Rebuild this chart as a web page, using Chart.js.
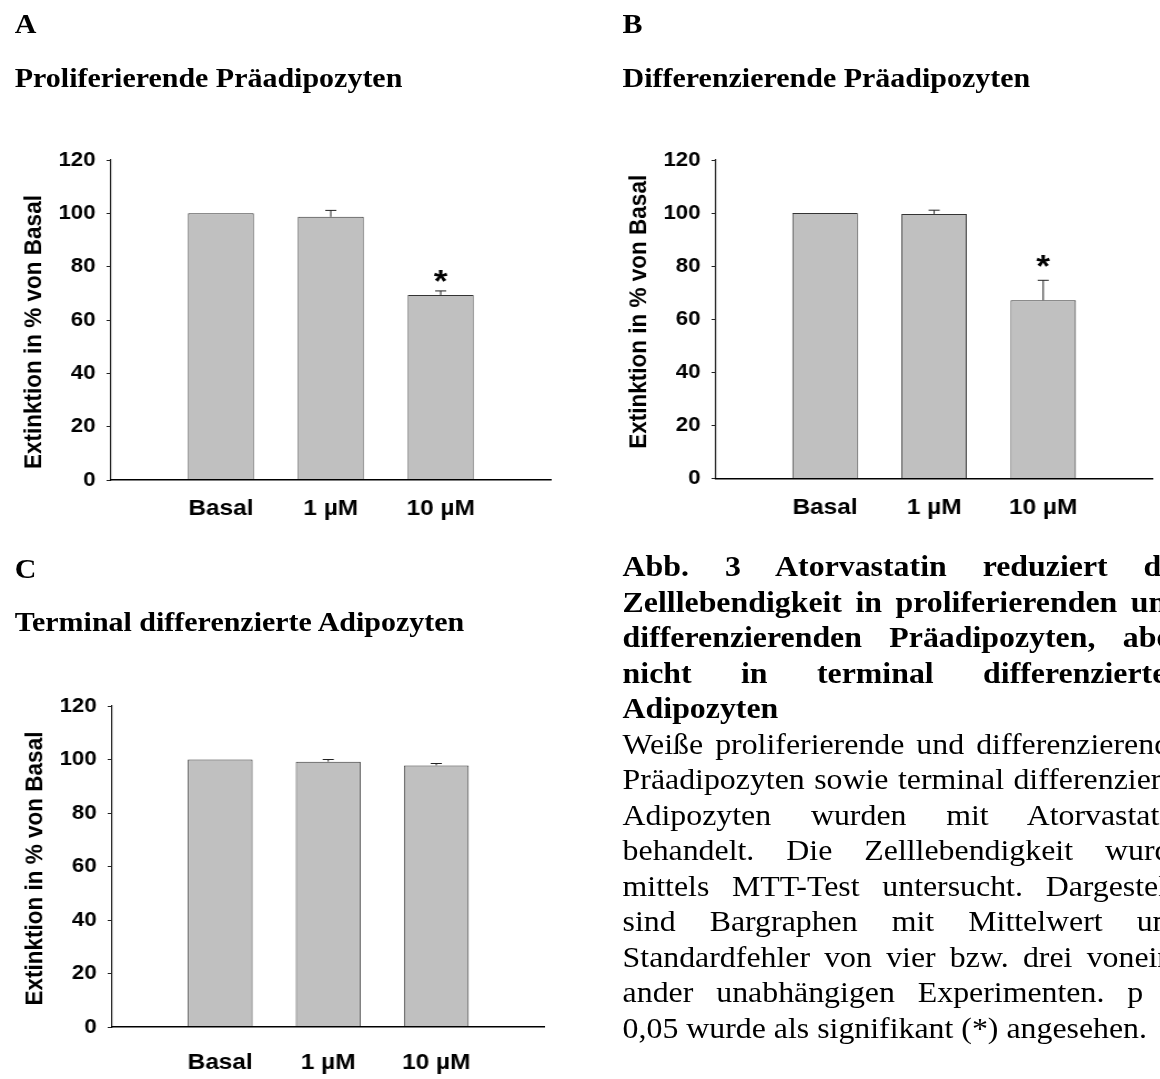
<!DOCTYPE html>
<html lang="de">
<head>
<meta charset="utf-8">
<title>Atorvastatin – Zelllebendigkeit</title>
<script src="https://cdn.jsdelivr.net/npm/chart.js@4.4.1/dist/chart.umd.min.js"></script>
<style>
  html, body { margin: 0; padding: 0; background: #fff; width: 1160px; height: 1079px; overflow: hidden; }
  /* the whole figure is laid out on a slightly narrower sheet and widened horizontally */
  #sheet { position: absolute; left: 0; top: 0; width: 1060px; height: 1079px;
           transform: scaleX(1.11); transform-origin: 0 0; }
  .serif { position: absolute; font-family: "Liberation Serif", "Times New Roman", serif;
           font-size: 27px; line-height: 27px; color: #000; white-space: nowrap; }
  .bold { font-weight: bold; }
  .panel { position: absolute; }
  #caption { position: absolute; left: 560.9px; top: 549.3px; width: 507px;
             font-family: "Liberation Serif", "Times New Roman", serif; font-size: 28.7px; color: #000; }
  #caption div { height: 35.5px; line-height: 35.5px; white-space: nowrap; }
</style>
</head>
<body>
<div id="sheet">
  <div class="serif bold" style="left:13.3px; top:10.7px;">A</div>
  <div class="serif bold" style="left:13.3px; top:64.7px;">Proliferierende Präadipozyten</div>
  <div class="serif bold" style="left:560.9px; top:10.7px;">B</div>
  <div class="serif bold" style="left:560.9px; top:64.7px;">Differenzierende Präadipozyten</div>
  <div class="serif bold" style="left:13.3px; top:555.7px;">C</div>
  <div class="serif bold" style="left:13.3px; top:609.1px;">Terminal differenzierte Adipozyten</div>

  <div class="panel" style="left:0px; top:130px; width:512px; height:400px;"><canvas id="chartA"></canvas></div>
  <div class="panel" style="left:545.3px; top:130px; width:509.1px; height:400px;"><canvas id="chartB"></canvas></div>
  <div class="panel" style="left:0.6px; top:675.7px; width:512.1px; height:401px;"><canvas id="chartC"></canvas></div>

  <div id="caption">
    <div class="bold j"><span>Abb. 3 Atorvastatin reduziert die</span></div>
    <div class="bold j"><span>Zelllebendigkeit in proliferierenden und</span></div>
    <div class="bold j"><span>differenzierenden Präadipozyten, aber</span></div>
    <div class="bold j"><span>nicht in terminal differenzierten</span></div>
    <div class="bold"><span>Adipozyten</span></div>
    <div class="j"><span>Weiße proliferierende und differenzierende</span></div>
    <div class="j"><span>Präadipozyten sowie terminal differenzierte</span></div>
    <div class="j"><span>Adipozyten wurden mit Atorvastatin</span></div>
    <div class="j"><span>behandelt. Die Zelllebendigkeit wurde</span></div>
    <div class="j"><span>mittels MTT-Test untersucht. Dargestellt</span></div>
    <div class="j"><span>sind Bargraphen mit Mittelwert und</span></div>
    <div class="j"><span>Standardfehler von vier bzw. drei vonein-</span></div>
    <div class="j"><span>ander unabhängigen Experimenten. p &lt;</span></div>
    <div><span>0,05 wurde als signifikant (*) angesehen.</span></div>
  </div>
</div>

<script>
// ---- data ----
const categories = ['Basal', '1 µM', '10 µM'];
const yTickValues = [0, 20, 40, 60, 80, 100, 120];
const axisTitle = 'Extinktion in % von Basal';

// A: proliferating preadipocytes
const proliferatingMean = [100, 98.7, 69.4];
const proliferatingSem  = [0, 2.4, 1.5];
const proliferatingSig  = [false, false, true];

// B: differentiating preadipocytes
const differentiatingMean = [100, 99.7, 67.2];
const differentiatingSem  = [0, 1.4, 7.5];
const differentiatingSig  = [false, false, true];

// C: terminally differentiated adipocytes
const matureMean = [100, 99.2, 97.8];
const matureSem  = [0, 0.8, 0.7];
const matureSig  = [false, false, false];

// ---- justified caption lines ----
const captionWidth = 506;
document.querySelectorAll('#caption div.j').forEach(line => {
  const span = line.querySelector('span');
  const gaps = (span.textContent.match(/ /g) || []).length;
  if (gaps > 0) {
    const extra = (captionWidth - span.offsetWidth) / gaps;
    span.style.wordSpacing = extra + 'px';
  }
});

// ---- chart drawing ----
const sansFamily = '"Liberation Sans", Arial, sans-serif';

// upper error bars and significance asterisks
const errorBarPlugin = {
  id: 'errorBars',
  afterDatasetsDraw(chart, args, opts) {
    const ctx = chart.ctx;
    const yScale = chart.scales.y;
    const ds = chart.data.datasets[0];
    const meta = chart.getDatasetMeta(0);
    ctx.save();
    ctx.strokeStyle = '#222';
    ctx.lineWidth = 1;
    meta.data.forEach((bar, i) => {
      const v = ds.data[i];
      if (v === null || v === undefined) return;
      const err = ds.errors[i] || 0;
      const yEnd = yScale.getPixelForValue(v + err);
      if (err > 0) {
        ctx.beginPath();
        ctx.moveTo(bar.x, bar.y);
        ctx.lineTo(bar.x, yEnd);
        ctx.moveTo(bar.x - 5, yEnd);
        ctx.lineTo(bar.x + 5, yEnd);
        ctx.stroke();
      }
      if (ds.significant[i]) {
        ctx.font = 'bold 32px ' + sansFamily;
        ctx.fillStyle = '#000';
        ctx.textAlign = 'center';
        ctx.textBaseline = 'alphabetic';
        const m = ctx.measureText('*');
        const centre = yEnd - opts.starGap;
        const base = centre + (m.actualBoundingBoxAscent - m.actualBoundingBoxDescent) / 2;
        ctx.fillText('*', bar.x, base);
      }
    });
    ctx.restore();
  }
};

// rotated y-axis title, set beside the value axis
const axisTitlePlugin = {
  id: 'axisTitle',
  afterDraw(chart, args, opts) {
    const { ctx, chartArea } = chart;
    const yScale = chart.scales.y;
    ctx.save();
    ctx.font = 'bold 22.5px ' + sansFamily;
    ctx.fillStyle = '#000';
    ctx.textAlign = 'center';
    ctx.textBaseline = 'middle';
    ctx.translate(yScale.left + opts.x, (chartArea.top + chartArea.bottom) / 2 + opts.shift);
    ctx.rotate(-Math.PI / 2);
    ctx.fillText(opts.text, 0, 0);
    ctx.restore();
  }
};

function makePanel(canvasId, means, sems, sig, layoutOpts) {
  return new Chart(document.getElementById(canvasId), {
    type: 'bar',
    data: {
      labels: ['', ...categories, ''],
      datasets: [{
        data: [null, ...means, null],
        errors: [0, ...sems, 0],
        significant: [false, ...sig, false],
        backgroundColor: '#c0c0c0',
        borderColor: '#333',
        borderWidth: 1,
        categoryPercentage: 1,
        barPercentage: 0.6
      }]
    },
    options: {
      responsive: true,
      maintainAspectRatio: false,
      animation: false,
      devicePixelRatio: 1,
      layout: { padding: { top: 30, right: layoutOpts.padRight, bottom: 0, left: 0 } },
      plugins: {
        legend: { display: false },
        tooltip: { enabled: false },
        errorBars: { starGap: layoutOpts.starGap },
        axisTitle: { text: axisTitle, x: 30.5, shift: layoutOpts.titleShift }
      },
      scales: {
        x: {
          type: 'category',
          offset: false,
          grid: { display: true, drawOnChartArea: false, drawTicks: false, offset: false },
          border: { display: true, color: '#000', width: 1.5, z: 1 },
          ticks: {
            autoSkip: false, maxRotation: 0, minRotation: 0,
            padding: layoutOpts.labelPad, color: '#000',
            font: { family: sansFamily, size: 22, weight: 'bold' }
          },
          afterFit: s => { s.height = layoutOpts.xAxisHeight; }
        },
        y: {
          min: 0,
          max: 120,
          afterBuildTicks: s => { s.ticks = yTickValues.map(v => ({ value: v })); },
          grid: { drawOnChartArea: false, drawTicks: true, tickLength: 4, tickColor: '#222', tickWidth: 1 },
          border: { display: true, color: '#222', width: 1.2 },
          ticks: {
            padding: 10, color: '#000',
            font: { family: sansFamily, size: 20, weight: 'bold' }
          },
          title: { display: false },
          afterFit: s => { s.width = 100; }
        }
      }
    },
    plugins: [errorBarPlugin, axisTitlePlugin]
  });
}

makePanel('chartA', proliferatingMean, proliferatingSem, proliferatingSig,
  { padRight: 10, xAxisHeight: 50, labelPad: 16, starGap: 15, titleShift: 12 });
makePanel('chartB', differentiatingMean, differentiatingSem, differentiatingSig,
  { padRight: 10, xAxisHeight: 51.3, labelPad: 16, starGap: 19.5, titleShift: -7.6 });
makePanel('chartC', matureMean, matureSem, matureSig,
  { padRight: 10, xAxisHeight: 50, labelPad: 22.7, starGap: 15, titleShift: 2 });
</script>
</body>
</html>
